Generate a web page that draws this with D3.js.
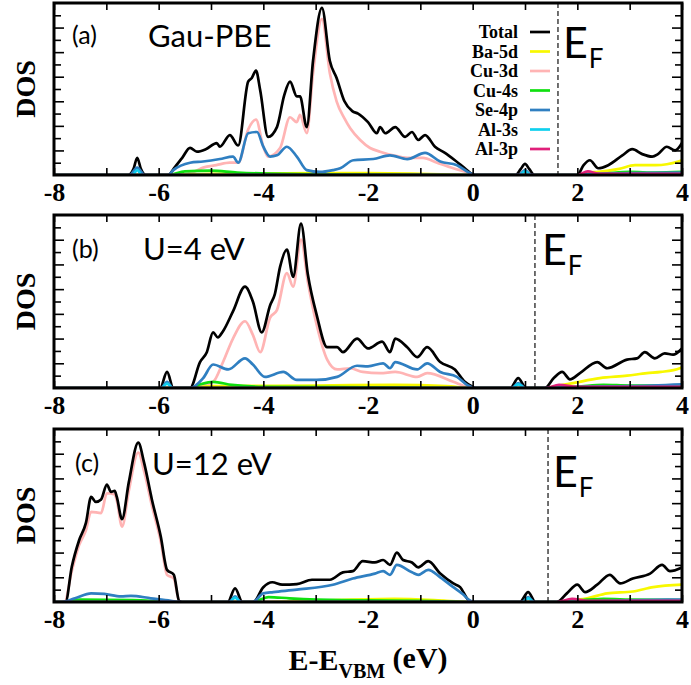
<!DOCTYPE html>
<html>
<head>
<meta charset="utf-8">
<script src="https://cdn.jsdelivr.net/npm/d3@7"></script>
<style>
  body { margin: 0; background: #fff; }
  svg { display: block; }
</style>
</head>
<body>
<svg id="chart"></svg>
<script>
// energy ticks (eV) and series names
const xTicks = [-8, -7, -6, -5, -4, -3, -2, -1, 0, 1, 2, 3, 4]
const seriesNames = ['Total', 'Ba-5d', 'Cu-3d', 'Cu-4s', 'Se-4p', 'Al-3s', 'Al-3p']
const panelLabels = ['(a)', '(b)', '(c)']
const panelTitles = ['Gau-PBE', 'U=4 eV', 'U=12 eV']
const fermiLevels = [1.63, 1.19, 1.44]

// panel (a) Gau-PBE : [E, DOS]
const aTotal = [[-8,0],[-6.58,0],[-6.48,0.5],[-6.41,1.4],[-6.34,0.5],[-6.25,0],[-5.82,0],[-5.69,0.65],[-5.55,1.4],[-5.40,2.2],[-5.27,1.9],[-5.1,2.1],[-4.89,2.6],[-4.83,2.3],[-4.64,3.25],[-4.48,2.4],[-4.29,7.6],[-4.22,7.9],[-4.14,8.5],[-4.06,6.9],[-3.91,3.1],[-3.74,3.9],[-3.6,6.5],[-3.49,7.6],[-3.36,6.4],[-3.30,6.4],[-3.17,3.9],[-3.05,9.3],[-2.88,13.6],[-2.73,9.3],[-2.60,7.9],[-2.45,6.0],[-2.30,5.2],[-2.19,5.0],[-2.0,4.3],[-1.83,3.4],[-1.77,3.9],[-1.67,3.4],[-1.48,3.9],[-1.29,3.1],[-1.16,3.5],[-1.04,2.85],[-0.91,3.25],[-0.72,2.3],[-0.53,1.8],[-0.34,1.2],[-0.15,0.55],[0,0.05],[0.05,0],[0.82,0],[0.92,0.5],[1.0,0.9],[1.08,0.5],[1.18,0],[2.0,0],[2.12,0.8],[2.24,1.2],[2.40,0.55],[2.59,0.8],[2.86,1.6],[3.05,2.1],[3.24,1.7],[3.43,1.5],[3.54,1.7],[3.71,2.3],[3.87,2.0],[4.0,2.6]]
const aBa5d = [[-8,0],[-5.8,0],[-5.0,0.1],[-3,0.15],[-2,0.15],[-1,0.1],[0,0],[2.0,0],[2.2,0.2],[2.4,0.25],[2.8,0.5],[3.1,0.8],[3.5,0.8],[3.93,1.1],[4,1.2]]
const aCu3d = [[-8,0],[-5.6,0],[-5.3,0.3],[-5.15,0.6],[-4.9,0.8],[-4.64,1.0],[-4.48,1.0],[-4.29,3.7],[-4.14,4.5],[-4.0,2.3],[-3.91,1.5],[-3.68,2.2],[-3.49,4.7],[-3.36,4.3],[-3.30,4.9],[-3.17,3.4],[-3.05,8.3],[-2.88,12.7],[-2.73,8.3],[-2.60,6.0],[-2.45,4.6],[-2.34,3.8],[-2.15,2.85],[-1.96,2.2],[-1.77,1.9],[-1.52,1.6],[-1.25,1.4],[-0.95,1.4],[-0.68,1.0],[-0.37,0.55],[-0.05,0.15],[0.05,0],[4,0]]
const aCu4s = [[-8,0],[-5.8,0],[-5.5,0.3],[-5.0,0.35],[-4.5,0.2],[-3,0.05],[0,0],[2.0,0],[2.5,0.1],[3,0.25],[3.5,0.2],[4,0.25]]
const aSe4p = [[-8,0],[-6.55,0],[-6.41,0.6],[-6.27,0],[-5.82,0],[-5.72,0.4],[-5.40,1.0],[-5.15,1.1],[-4.83,1.3],[-4.58,1.5],[-4.48,1.0],[-4.29,3.4],[-4.12,3.5],[-4.0,2.3],[-3.87,1.5],[-3.74,1.6],[-3.55,2.3],[-3.36,1.5],[-3.17,0.4],[-2.92,0.25],[-2.67,0.4],[-2.53,0.55],[-2.28,1.2],[-1.9,1.3],[-1.58,1.6],[-1.25,1.3],[-0.91,1.8],[-0.62,1.1],[-0.3,0.8],[-0.05,0.15],[0.05,0],[0.88,0],[1.0,0.4],[1.12,0],[2.0,0],[2.3,0.1],[3,0.15],[4,0.2]]
const aAl3s = [[-8,0],[-6.5,0],[-6.41,0.4],[-6.32,0],[0.9,0],[1.0,0.3],[1.1,0],[4,0]]
const aAl3p = [[-8,0],[2.0,0],[2.2,0.3],[2.4,0.1],[3,0.1],[4,0.1]]

// panel (b) U=4 eV
const bTotal = [[-8,0],[-5.97,0],[-5.84,1.3],[-5.72,0],[-5.40,0],[-5.21,2.1],[-5.08,2.9],[-4.96,4.5],[-4.87,4.1],[-4.77,4.6],[-4.58,6.2],[-4.35,8.2],[-4.20,7.0],[-4.03,4.5],[-3.87,6.7],[-3.78,7.6],[-3.68,9.8],[-3.55,11.2],[-3.43,9.0],[-3.28,13.3],[-3.15,9.2],[-2.98,5.9],[-2.78,3.3],[-2.59,3.3],[-2.48,2.9],[-2.21,4.0],[-2.0,3.2],[-1.73,3.75],[-1.58,2.9],[-1.48,4.0],[-1.25,3.3],[-1.06,2.5],[-0.87,3.3],[-0.62,2.1],[-0.34,1.5],[-0.15,0.5],[0,0.1],[0.05,0],[0.72,0],[0.87,0.8],[1.02,0],[1.38,0],[1.55,0.8],[1.71,1.3],[1.86,0.7],[2.05,1.2],[2.38,2.1],[2.57,1.6],[2.95,2.3],[3.14,2.4],[3.29,2.9],[3.48,2.4],[3.67,2.8],[3.83,2.7],[4.0,3.2]]
const bBa5d = [[-8,0],[-5.4,0],[-5,0.15],[-3,0.2],[-1.5,0.25],[-0.5,0.15],[0,0],[1.4,0],[1.6,0.15],[1.92,0.4],[2.43,0.8],[2.95,1.0],[3.33,1.2],[3.6,1.3],[3.96,1.6],[4,1.7]]
const bCu3d = [[-8,0],[-5.4,0],[-5.21,0.2],[-4.96,0.5],[-4.77,2.1],[-4.58,4.0],[-4.35,5.4],[-4.20,4.3],[-4.06,2.9],[-3.87,5.7],[-3.74,6.3],[-3.55,9.3],[-3.43,8.2],[-3.28,12.0],[-3.15,8.6],[-2.98,5.1],[-2.78,2.3],[-2.59,1.5],[-2.34,1.6],[-2.10,1.3],[-1.77,1.2],[-1.48,1.3],[-1.06,0.9],[-0.87,1.2],[-0.37,0.5],[-0.11,0.1],[0.05,0],[4,0]]
const bCu4s = [[-8,0],[-5.4,0],[-5.2,0.3],[-4.96,0.5],[-4.6,0.25],[-4.0,0.1],[-2,0.05],[0,0],[1.4,0],[2,0.1],[2.5,0.25],[3,0.2],[4,0.2]]
const bSe4p = [[-8,0],[-5.95,0],[-5.84,0.5],[-5.73,0],[-5.40,0],[-5.15,0.8],[-4.96,1.9],[-4.67,1.5],[-4.35,2.4],[-4.20,1.9],[-3.97,0.9],[-3.62,1.3],[-3.36,0.65],[-2.98,0.65],[-2.59,0.9],[-2.21,1.8],[-2.0,1.75],[-1.71,2.0],[-1.58,1.6],[-1.48,2.1],[-1.06,1.5],[-0.87,2.0],[-0.62,1.3],[-0.3,0.9],[-0.09,0.2],[0.05,0],[0.75,0],[0.87,0.4],[1.0,0],[1.4,0],[2,0.1],[3,0.15],[4,0.3]]
const bAl3s = [[-8,0],[-5.95,0],[-5.84,0.35],[-5.73,0],[0.75,0],[0.87,0.3],[1.0,0],[4,0]]
const bAl3p = [[-8,0],[1.4,0],[1.65,0.25],[2.0,0.1],[4,0.1]]

// panel (c) U=12 eV
const cTotal = [[-8,0],[-7.78,0],[-7.66,2.85],[-7.52,5.0],[-7.39,6.4],[-7.29,8.5],[-7.2,8.1],[-7.1,8.3],[-6.99,9.5],[-6.91,8.9],[-6.84,9.0],[-6.8,8.5],[-6.70,6.7],[-6.57,9.7],[-6.39,12.9],[-6.28,11.3],[-6.13,8.3],[-5.96,5.3],[-5.84,2.6],[-5.71,2.2],[-5.61,0.1],[-5.55,0],[-4.68,0],[-4.54,1.1],[-4.4,0],[-4.19,0],[-4.0,1.2],[-3.83,1.6],[-3.64,1.4],[-3.36,1.45],[-3.07,1.8],[-2.73,1.8],[-2.48,2.4],[-2.29,2.5],[-2.10,3.3],[-1.87,3.2],[-1.71,3.4],[-1.58,3.0],[-1.45,4.0],[-1.33,3.4],[-1.16,3.2],[-1.04,2.8],[-0.85,3.3],[-0.62,2.3],[-0.37,1.5],[-0.24,1.2],[-0.09,0.2],[0.0,0],[0.9,0],[1.06,0.8],[1.2,0],[1.61,0],[1.8,0.7],[2.0,1.4],[2.15,0.8],[2.38,1.4],[2.62,2.2],[2.82,1.5],[3.06,1.9],[3.39,2.3],[3.62,3.0],[3.77,2.5],[4.0,2.8]]
const cBa5d = [[-8,0],[-4.2,0],[-3,0.1],[-1.5,0.25],[-0.5,0.1],[0,0],[1.6,0],[1.9,0.15],[2.19,0.3],[2.57,0.7],[3.06,0.85],[3.45,1.2],[4,1.4]]
const cCu3d = [[-8,0],[-7.8,0],[-7.66,2.5],[-7.52,4.6],[-7.39,5.8],[-7.29,7.3],[-7.1,7.2],[-6.99,8.8],[-6.84,8.7],[-6.8,8.2],[-6.70,6.1],[-6.57,9.0],[-6.39,12.1],[-6.28,10.6],[-6.13,7.8],[-5.96,4.9],[-5.84,2.2],[-5.71,1.9],[-5.61,0.1],[-5.55,0],[-4,0],[-2,0.1],[-1,0.1],[0,0],[4,0]]
const cCu4s = [[-8,0],[-7.8,0],[-7.5,0.2],[-6.5,0.15],[-5.6,0],[-4.2,0],[-3.9,0.4],[-3.5,0.3],[-2.5,0.15],[-1,0.1],[0,0],[1.6,0],[2.5,0.25],[3,0.2],[4,0.15]]
const cSe4p = [[-8,0],[-7.85,0],[-7.6,0.3],[-7.29,0.7],[-7.04,0.65],[-6.72,0.45],[-6.53,0.5],[-6.15,0.3],[-5.77,0.1],[-5.6,0],[-4.65,0],[-4.54,0.45],[-4.43,0],[-4.2,0],[-4.0,0.7],[-3.81,0.8],[-3.36,1.0],[-2.67,1.4],[-2.29,1.9],[-1.87,2.3],[-1.71,2.5],[-1.58,2.2],[-1.45,3.0],[-1.16,2.4],[-1.04,2.2],[-0.85,2.6],[-0.62,2.0],[-0.37,1.2],[-0.18,0.6],[-0.05,0.1],[0.05,0],[0.95,0],[1.06,0.4],[1.17,0],[1.6,0],[2.5,0.1],[4,0.2]]
const cAl3s = [[-8,0],[-4.65,0],[-4.54,0.35],[-4.43,0],[0.95,0],[1.06,0.3],[1.17,0],[4,0]]
const cAl3p = [[-8,0],[1.6,0],[1.9,0.25],[2.2,0.1],[4,0.1]]

const panelData = [
  [aTotal, aBa5d, aCu3d, aCu4s, aSe4p, aAl3s, aAl3p],
  [bTotal, bBa5d, bCu3d, bCu4s, bSe4p, bAl3s, bAl3p],
  [cTotal, cBa5d, cCu3d, cCu4s, cSe4p, cAl3s, cAl3p]
]

const colors = ['#000000', '#f8f800', '#ffb4b4', '#10e010', '#2f7fc1', '#10d0ee', '#e0207a']
// pink goes under the total, the small pdos lines on top
const drawOrder = [2, 1, 3, 0, 4, 5, 6]

const width = 691, height = 685
const left = 54, right = 682
const panels = [{top: 3, bottom: 175}, {top: 215, bottom: 388}, {top: 429, bottom: 602}]

const svg = d3.select('#chart').attr('width', width).attr('height', height)
const serif = 'Liberation Serif, Times New Roman, serif'
const sans = 'Lato, sans-serif'

let xScale = d3.scaleLinear().domain([-8, 4]).range([left, right])

panels.forEach((p, pi) => {
  let yScale = d3.scaleLinear().domain([0, 14]).range([p.bottom, p.top])
  let g = svg.append('g')

  g.append('clipPath').attr('id', 'clip' + pi)
    .append('rect').attr('x', left).attr('y', p.top)
    .attr('width', right - left).attr('height', p.bottom - p.top)

  let line = d3.line()
    .x(d => xScale(d[0]))
    .y(d => yScale(d[1]))
    .curve(d3.curveMonotoneX)

  let lines = g.append('g').attr('clip-path', `url(#clip${pi})`)
  drawOrder.forEach(si => {
    lines.append('path')
      .datum(panelData[pi][si])
      .attr('d', line)
      .attr('fill', 'none')
      .attr('stroke', colors[si])
      .attr('stroke-width', 2.7)
      .attr('stroke-linejoin', 'round')
  })

  // fermi level
  g.append('line')
    .attr('x1', xScale(fermiLevels[pi])).attr('x2', xScale(fermiLevels[pi]))
    .attr('y1', p.top).attr('y2', p.bottom)
    .attr('stroke', '#333').attr('stroke-width', 1.4)
    .attr('stroke-dasharray', '5,3')

  // axes: ticks point inwards
  let xAxisB = d3.axisBottom(xScale).tickValues(xTicks).tickSizeInner(-7).tickSizeOuter(0)
    .tickPadding(8).tickFormat(d => d % 2 === 0 ? String(d) : '')
  let xAxisT = d3.axisTop(xScale).tickValues(xTicks).tickSizeInner(-7).tickSizeOuter(0).tickFormat('')
  let yMinor = d3.range(1, 14).filter(v => v % 2 === 1)
  let yMajor = d3.range(2, 14, 2)

  let gb = g.append('g').attr('transform', `translate(0,${p.bottom})`).call(xAxisB)
  gb.selectAll('text').attr('font-family', serif).attr('font-weight', 'bold')
    .attr('font-size', 26).attr('fill', '#000')
  g.append('g').attr('transform', `translate(0,${p.top})`).call(xAxisT)
  g.append('g').attr('transform', `translate(${left},0)`)
    .call(d3.axisLeft(yScale).tickValues(yMinor).tickSizeInner(-7).tickSizeOuter(0).tickFormat(''))
  g.append('g').attr('transform', `translate(${left},0)`)
    .call(d3.axisLeft(yScale).tickValues(yMajor).tickSizeInner(-10).tickSizeOuter(0).tickFormat(''))
  g.append('g').attr('transform', `translate(${right},0)`)
    .call(d3.axisRight(yScale).tickValues(yMinor).tickSizeInner(-7).tickSizeOuter(0).tickFormat(''))
  g.append('g').attr('transform', `translate(${right},0)`)
    .call(d3.axisRight(yScale).tickValues(yMajor).tickSizeInner(-10).tickSizeOuter(0).tickFormat(''))
  g.selectAll('.domain').remove()
  g.selectAll('.tick line').attr('stroke', '#000').attr('stroke-width', 1.6)

  // frame
  g.append('rect')
    .attr('x', left).attr('y', p.top)
    .attr('width', right - left).attr('height', p.bottom - p.top)
    .attr('fill', 'none').attr('stroke', '#000').attr('stroke-width', 3)

  // DOS label
  g.append('text')
    .attr('transform', `translate(35,${(p.top + p.bottom) / 2}) rotate(-90)`)
    .attr('text-anchor', 'middle')
    .attr('font-family', serif).attr('font-weight', 'bold').attr('font-size', 28)
    .text('DOS')

  // panel label and title
  let labelPos = [[72, 44], [72, 258], [75, 472]][pi]
  g.append('text').attr('x', labelPos[0]).attr('y', labelPos[1])
    .attr('font-family', sans).attr('font-size', 25).text(panelLabels[pi])
  let titlePos = [[148, 47], [143, 260], [152, 475]][pi]
  g.append('text').attr('x', titlePos[0]).attr('y', titlePos[1])
    .attr('font-family', sans).attr('font-size', 31).text(panelTitles[pi])

  // E_F label
  let efPos = [[563, 58], [542, 265], [553, 487]][pi]
  let ef = g.append('text').attr('x', efPos[0]).attr('y', efPos[1])
    .attr('font-family', sans).attr('font-size', 43)
  ef.append('tspan').text('E')
  ef.append('tspan').attr('font-size', 26).attr('dy', 10).attr('dx', 1).text('F')
})

// legend in panel (a)
let legend = svg.append('g')
seriesNames.forEach((name, i) => {
  let y = 32 + i * 19.5
  legend.append('text')
    .attr('x', 518).attr('y', y + 6)
    .attr('text-anchor', 'end')
    .attr('font-family', serif).attr('font-weight', 'bold').attr('font-size', 18)
    .text(name)
  legend.append('line')
    .attr('x1', 530).attr('x2', 550).attr('y1', y).attr('y2', y)
    .attr('stroke', colors[i]).attr('stroke-width', 2.7)
})

// x axis title
let xt = svg.append('text')
  .attr('x', 368).attr('y', 670)
  .attr('text-anchor', 'middle')
  .attr('font-family', serif).attr('font-weight', 'bold').attr('font-size', 30)
xt.append('tspan').text('E-E')
xt.append('tspan').attr('font-size', 20).attr('dy', 8).text('VBM')
xt.append('tspan').attr('dy', -10).text(' (eV)')
</script>
</body>
</html>
